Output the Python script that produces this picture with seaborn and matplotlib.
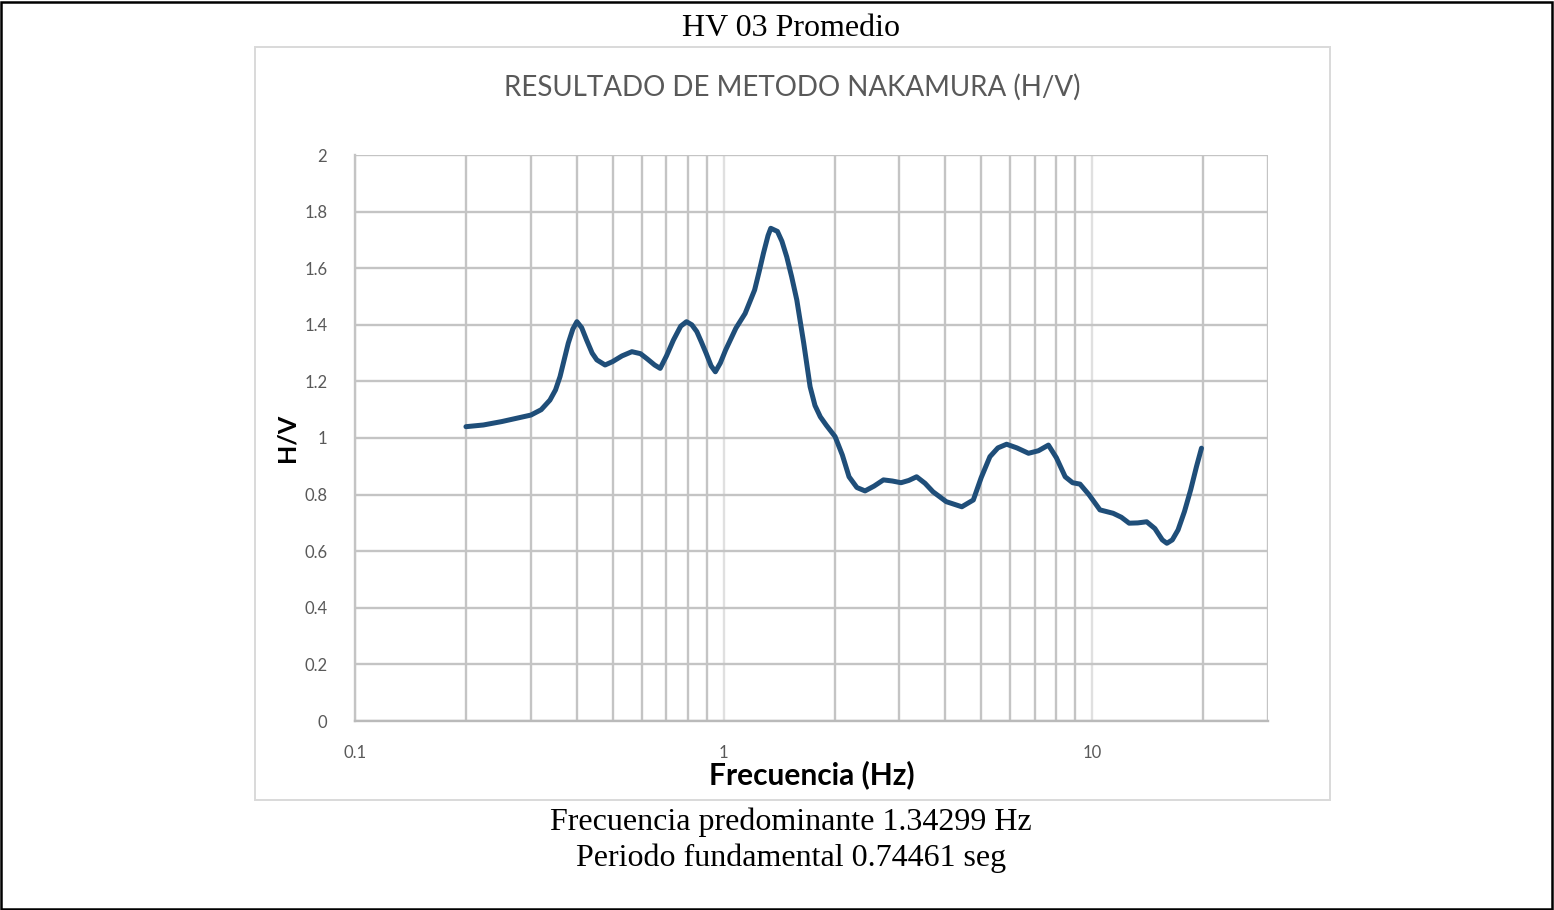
import matplotlib
matplotlib.use("Agg")
import matplotlib.pyplot as plt
import matplotlib.ticker as mticker
from matplotlib.patches import Rectangle
import numpy as np
import pandas as pd
import seaborn as sns

# H/V spectral ratio curve (frequency in Hz, amplitude ratio)
frecuencia = [0.200, 0.223, 0.250, 0.275, 0.300, 0.320, 0.338, 0.350, 0.360, 0.370,
              0.379, 0.390, 0.400, 0.412, 0.425, 0.440, 0.453, 0.477, 0.500, 0.530,
              0.564, 0.595, 0.620, 0.650, 0.673, 0.700, 0.731, 0.765, 0.793, 0.820,
              0.846, 0.870, 0.897, 0.925, 0.950, 0.980, 1.013, 1.080, 1.144, 1.214,
              1.250, 1.283, 1.320, 1.343, 1.400, 1.440, 1.484, 1.530, 1.580, 1.650,
              1.717, 1.770, 1.830, 1.900, 2.007, 2.100, 2.190, 2.300, 2.420, 2.560,
              2.715, 2.870, 3.030, 3.180, 3.340, 3.520, 3.700, 4.020, 4.430, 4.760,
              5.000, 5.280, 5.550, 5.860, 6.250, 6.720, 7.150, 7.610, 8.000, 8.450,
              8.850, 9.270, 9.800, 10.50, 11.40, 12.00, 12.60, 13.30, 14.06, 14.80,
              15.50, 15.95, 16.50, 17.10, 17.80, 18.50, 19.20, 19.80]
hv = [1.040, 1.046, 1.058, 1.070, 1.081, 1.100, 1.134, 1.170, 1.217, 1.280,
      1.335, 1.385, 1.411, 1.390, 1.346, 1.300, 1.276, 1.258, 1.270, 1.290,
      1.305, 1.298, 1.280, 1.258, 1.246, 1.290, 1.346, 1.395, 1.411, 1.400,
      1.376, 1.340, 1.299, 1.255, 1.234, 1.265, 1.311, 1.388, 1.440, 1.523,
      1.590, 1.653, 1.715, 1.741, 1.730, 1.695, 1.640, 1.570, 1.488, 1.335,
      1.181, 1.115, 1.075, 1.045, 1.005, 0.940, 0.863, 0.825, 0.813, 0.830,
      0.852, 0.848, 0.842, 0.850, 0.863, 0.840, 0.810, 0.775, 0.757, 0.781,
      0.860, 0.934, 0.965, 0.978, 0.965, 0.946, 0.955, 0.975, 0.930, 0.863,
      0.842, 0.837, 0.800, 0.746, 0.734, 0.720, 0.699, 0.700, 0.704, 0.680,
      0.640, 0.628, 0.640, 0.675, 0.740, 0.816, 0.900, 0.964]

y_ticks = [0, 0.2, 0.4, 0.6, 0.8, 1, 1.2, 1.4, 1.6, 1.8, 2]
x_major = [0.1, 1, 10]

df = pd.DataFrame({"Frecuencia": frecuencia, "HV": hv})

sns.set_theme(style="white")
plt.rcParams["font.family"] = ["Lato", "DejaVu Sans"]

W, H = 1554, 910
fig = plt.figure(figsize=(W / 100, H / 100), dpi=100)

# outer page frame
fig.add_artist(Rectangle((1 / W, 1 / H), 1 - 3 / W, 1 - 3 / H, transform=fig.transFigure,
                         fill=False, edgecolor="black", linewidth=1.8))
# chart area frame
fig.add_artist(Rectangle((255 / W, 1 - 800 / H), (1330 - 255) / W, (800 - 47) / H,
                         transform=fig.transFigure, fill=False,
                         edgecolor="#d9d9d9", linewidth=1.4))

ax = fig.add_axes([355 / W, 1 - 721 / H, (1268 - 355) / W, (721 - 155) / H])

sns.lineplot(data=df, x="Frecuencia", y="HV", ax=ax, color="#1f4e79",
             linewidth=3.6, sort=False)
ax.lines[0].set_solid_joinstyle("round")
ax.lines[0].set_solid_capstyle("round")

ax.set_xscale("log")
ax.set_xlim(0.1, 30)
ax.set_ylim(0, 2)
ax.set_yticks(y_ticks)
ax.yaxis.set_major_formatter(mticker.FuncFormatter(lambda v, p: f"{v:g}"))
ax.xaxis.set_major_locator(mticker.FixedLocator(x_major))
ax.xaxis.set_major_formatter(mticker.FuncFormatter(lambda v, p: f"{v:g}"))
ax.xaxis.set_minor_locator(mticker.LogLocator(base=10, subs=np.arange(2, 10)))
ax.xaxis.set_minor_formatter(mticker.NullFormatter())

ax.grid(True, which="major", axis="y", color="#c4c4c4", linewidth=1.7)
ax.grid(True, which="major", axis="x", color="#e0e0e0", linewidth=1.7)
ax.grid(True, which="minor", axis="x", color="#c4c4c4", linewidth=1.7)
ax.set_axisbelow(True)

for side in ["top", "right"]:
    ax.spines[side].set_visible(False)
ax.spines["left"].set_color("#c4c4c4")
ax.spines["bottom"].set_color("#bababa")
ax.spines["left"].set_linewidth(1.7)
ax.spines["bottom"].set_linewidth(1.7)

ax.tick_params(axis="both", which="both", length=0, labelsize=12, labelcolor="#595959")
ax.tick_params(axis="y", pad=20)
ax.tick_params(axis="x", pad=17)

ax.set_xlabel("Frecuencia (Hz)", fontsize=21.5, fontweight="bold", color="black", labelpad=0)
ax.set_ylabel("H/V", fontsize=18, fontweight="bold", color="black", labelpad=4)

fig.text(792 / W, 1 - 87 / H, "RESULTADO DE METODO NAKAMURA (H/V)", ha="center",
         va="center", fontsize=20, color="#595959")

serif = ["Liberation Serif", "DejaVu Serif"]
fig.text(791 / W, 1 - 29 / H, "HV 03 Promedio", ha="center", va="center",
         fontsize=23, family=serif, color="black")
fig.text(791 / W, 1 - 822 / H, "Frecuencia predominante 1.34299 Hz", ha="center",
         va="center", fontsize=23, family=serif, color="black")
fig.text(791 / W, 1 - 858 / H, "Periodo fundamental 0.74461 seg", ha="center",
         va="center", fontsize=23, family=serif, color="black")

fig.savefig("out.png", dpi=100, facecolor="white")
